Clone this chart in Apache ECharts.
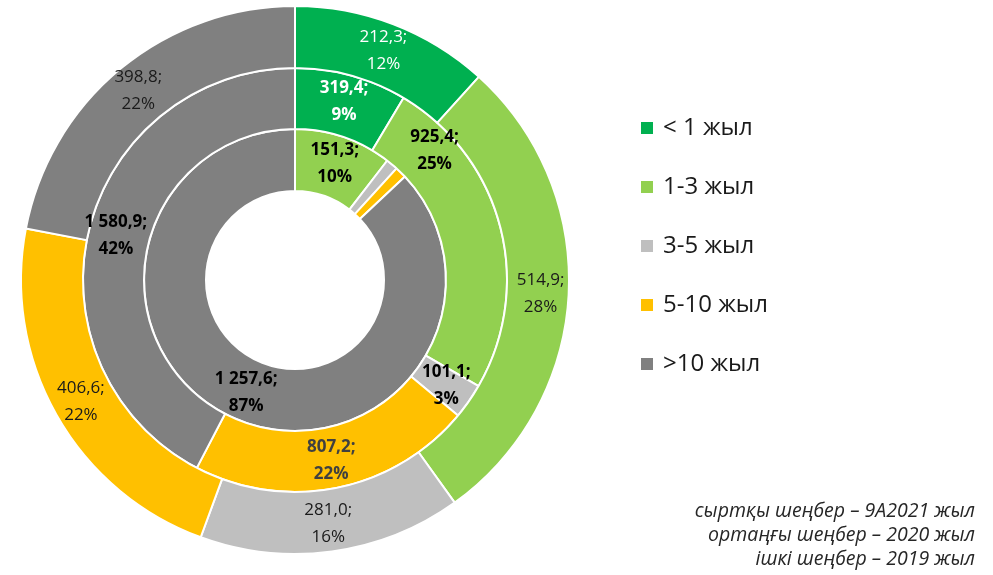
<!DOCTYPE html>
<html>
<head>
<meta charset="utf-8">
<style>
  html, body { margin: 0; padding: 0; background: #fff; }
  #chart { width: 993px; height: 575px; }
</style>
<script src="https://cdn.jsdelivr.net/npm/echarts@6/dist/echarts.min.js"></script>
</head>
<body>
<div id="chart"></div>
<script>
// Experience groups (legend order)
const categories = ['< 1 жыл', '1-3 жыл', '3-5 жыл', '5-10 жыл', '>10 жыл'];

// Values per ring, as printed on the labels
const values2019 = [0, 151.3, 18.5, 18.0, 1257.6];
const values2020 = [319.4, 925.4, 101.1, 807.2, 1580.9];
const values2021 = [212.3, 514.9, 281.0, 406.6, 398.8];

// Percentages printed on the labels
const pct2019 = [null, 10, null, null, 87];
const pct2020 = [9, 25, 3, 22, 42];
const pct2021 = [12, 28, 16, 22, 22];

const notes = [
  'сыртқы шеңбер – 9А2021 жыл',
  'ортаңғы шеңбер – 2020 жыл',
  'ішкі шеңбер – 2019 жыл'
];

const colors = ['#00B050', '#92D050', '#BFBFBF', '#FFC000', '#808080'];
const FONT = '"Open Sans", "Noto Sans", sans-serif';

// Manual nudges for labels that sit away from the slice centre
const labelShift = { '1-1': [-39, -83] };

function fmt(v) {
  const parts = v.toFixed(1).split('.');
  const int = parts[0].replace(/\B(?=(\d{3})+(?!\d))/g, ' ');
  return int + ',' + parts[1];
}

function ringData(vals, pcts, labelColors, bold) {
  return categories.map((name, i) => {
    const item = { name: name, value: vals[i], pct: pcts[i] };
    if (pcts[i] == null) {
      item.label = { show: false };
    } else {
      item.label = { color: labelColors[i], fontWeight: bold ? 'bold' : 'normal' };
    }
    return item;
  });
}

function ring(name, idx, radius, data) {
  return {
    name: name,
    type: 'pie',
    center: [295, 280],
    radius: radius,
    startAngle: 90,
    clockwise: true,
    avoidLabelOverlap: false,
    silent: true,
    itemStyle: { borderColor: '#fff', borderWidth: 2 },
    label: {
      show: true,
      position: 'inside',
      fontFamily: FONT,
      fontSize: 17,
      lineHeight: 27,
      formatter: p => fmt(p.value) + ';\n' + p.data.pct + '%'
    },
    labelLine: { show: false },
    labelLayout: function (p) {
      const s = labelShift[idx + '-' + p.dataIndex];
      if (!s) return {};
      return { dx: s[0], dy: s[1] };
    },
    emphasis: { disabled: true },
    data: data
  };
}

const chart = echarts.init(document.getElementById('chart'));
chart.setOption({
  animation: false,
  color: colors,
  legend: {
    orient: 'vertical',
    left: 639,
    top: 116,
    padding: 0,
    itemWidth: 14,
    itemHeight: 14,
    itemGap: 35,
    icon: 'rect',
    selectedMode: false,
    textStyle: { fontFamily: FONT, fontSize: 24, color: '#1a1a1a', padding: [0, 0, 0, 4] },
    data: categories
  },
  graphic: notes.map((t, i) => ({
    type: 'text',
    right: 18,
    top: 501 + i * 24,
    style: {
      text: t,
      font: 'italic 19.5px ' + FONT,
      fill: '#262626',
      textAlign: 'right'
    }
  })),
  series: [
    ring('2019', 0, [89, 151], ringData(values2019, pct2019,
      ['#000', '#000', '#000', '#000', '#000'], true)),
    ring('2020', 1, [151, 212], ringData(values2020, pct2020,
      ['#fff', '#000', '#000', '#404040', '#000'], true)),
    ring('2021', 2, [212, 274], ringData(values2021, pct2021,
      ['#fff', '#1a1a1a', '#1a1a1a', '#1a1a1a', '#1a1a1a'], false))
  ]
});
</script>
</body>
</html>
